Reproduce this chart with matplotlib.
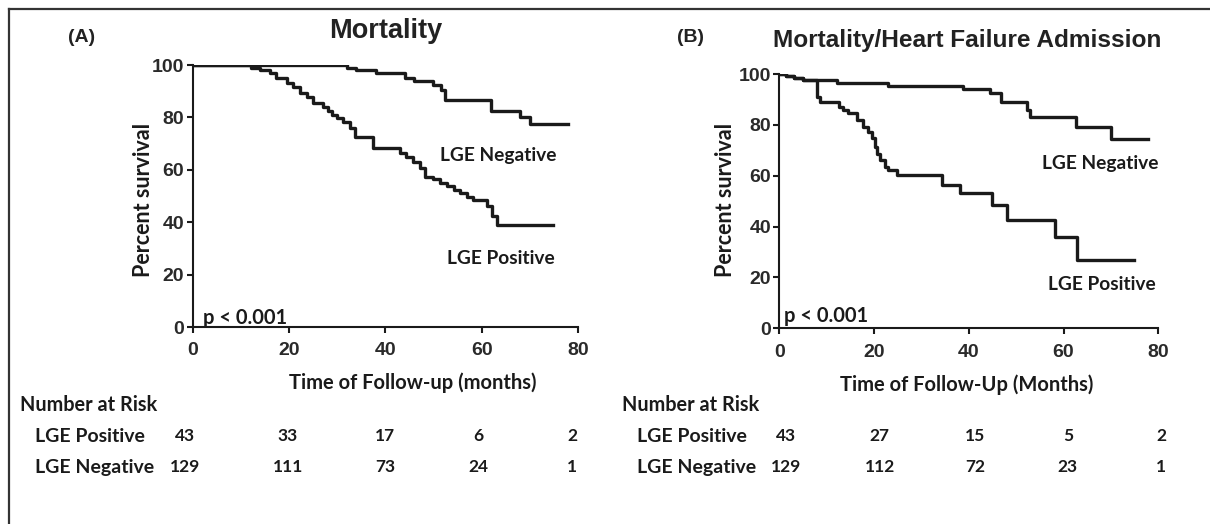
import matplotlib
matplotlib.use("Agg")
import matplotlib.pyplot as plt
import matplotlib.transforms as mtrans
from matplotlib.lines import Line2D

# Panel A: mortality (months, percent survival)
a_neg_t = [0, 32, 34, 38, 44, 46, 50, 51.5, 52.5, 62, 68, 70, 78]
a_neg_s = [100, 99, 98, 97, 95, 94, 92.5, 90.5, 86.5, 82.5, 80, 77.5, 77.5]
a_pos_t = [0, 12.2, 14.0, 16.1, 17.4, 19.5, 20.9, 22.3, 23.7, 25.0, 27.1, 28.0,
           28.9, 29.9, 31.3, 32.7, 33.7, 37.5, 43.1, 44.4, 45.8, 47.2, 48.2,
           50.0, 51.4, 52.8, 54.2, 55.5, 56.9, 58.3, 61.1, 62.1, 63.1, 74.9]
a_pos_s = [100, 99, 98, 96.8, 94.9, 93, 91.7, 89.2, 87.9, 85.6, 84, 82.5,
           81, 79.7, 78.4, 75.8, 72.6, 68.2, 66.5, 64.8, 63.1, 60.6, 57.1,
           56.3, 55, 53.7, 52.4, 51.1, 49.8, 48.5, 46, 42.5, 38.9, 38.9]

# Panel B: mortality / heart failure admission
b_neg_t = [0, 1.5, 3, 5, 12.1, 23, 38.8, 44.5, 46.9, 52.2, 52.9, 62.7, 70.1, 77.9]
b_neg_s = [100, 99.3, 98.6, 97.6, 96.6, 95.3, 94.0, 92.4, 89.1, 85.8, 83.2, 79.3, 74.3, 74.3]
b_pos_t = [0, 1.5, 3, 5, 7.9, 8.6, 12.5, 13.5, 14.6, 16.3, 17.7, 18.8, 19.5,
           20.2, 20.7, 21.2, 22.3, 23.0, 24.8, 34.3, 38.1, 44.8, 48.0, 58.2,
           62.9, 74.8]
b_pos_s = [100, 99.3, 98.6, 97.6, 91.1, 89.1, 87.2, 85.8, 84.5, 81.9, 79.3,
           77.3, 74.7, 71.4, 68.7, 66.1, 63.5, 62.2, 60.3, 56.4, 53.1, 48.5,
           42.6, 35.8, 26.9, 26.9]

a_risk_pos = [43, 33, 17, 6, 2]
a_risk_neg = [129, 111, 73, 24, 1]
b_risk_pos = [43, 27, 15, 5, 2]
b_risk_neg = [129, 112, 72, 23, 1]

# column placement (in months) of the at-risk numbers under each panel
a_cols = [-1.6, 19.8, 40, 59.3, 78.8]
b_cols = [1.4, 21.2, 41.3, 60.9, 80.6]

W, H = 1210, 524
fig = plt.figure(figsize=(W / 100, H / 100), dpi=100)

arial = "Liberation Sans"
calibri = "Lato"
ink = "#1a1a1a"


def fx(px):
    return px / W


def fy(py):
    return 1 - py / H


def survival_panel(rect, neg, pos, title, tsize, tpos, xlabel, xl_pos, yl_pos,
                   neg_lbl, pos_lbl, p_lbl):
    ax = fig.add_axes(rect)
    ax.step(neg[0], neg[1], where="post", color=ink, lw=2.4)
    ax.step(pos[0], pos[1], where="post", color=ink, lw=2.4)
    ax.set_xlim(0, 80)
    ax.set_ylim(0, 100)
    ax.set_xticks([0, 20, 40, 60, 80])
    ax.set_yticks([0, 20, 40, 60, 80, 100])
    for s in ["top", "right"]:
        ax.spines[s].set_visible(False)
    for s in ["left", "bottom"]:
        ax.spines[s].set_linewidth(1.5)
        ax.spines[s].set_color(ink)
    ax.tick_params(length=4, width=1.5, color=ink)
    ax.tick_params(axis="x", pad=7)
    ax.tick_params(axis="y", pad=2)
    for lab in ax.get_xticklabels() + ax.get_yticklabels():
        lab.set_fontfamily(arial)
        lab.set_fontweight("bold")
        lab.set_fontsize(14)
        lab.set_color("#2a2a2a")
    ax.patch.set_alpha(0)
    fig.text(fx(tpos[0]), fy(tpos[1]), title, fontfamily=arial, fontweight="bold",
             fontsize=tsize, ha="center", va="center", color="#222222")
    fig.text(fx(xl_pos[0]), fy(xl_pos[1]), xlabel, fontfamily=calibri,
             fontweight="bold", fontsize=14.5, ha="center", va="center", color=ink)
    fig.text(fx(yl_pos[0]), fy(yl_pos[1]), "Percent survival", fontfamily=calibri,
             fontweight="bold", fontsize=15.5, rotation=90, ha="center", va="center",
             color=ink)
    for (x, y, s) in [neg_lbl, pos_lbl]:
        fig.text(fx(x), fy(y), s, fontfamily=calibri, fontweight="bold",
                 fontsize=13.8, ha="left", va="center", color=ink)
    fig.text(fx(p_lbl[0]), fy(p_lbl[1]), p_lbl[2], fontfamily=calibri,
             fontweight="bold", fontsize=14.5, ha="left", va="center", color=ink)
    return ax


ax_a = survival_panel([fx(192.7), fy(327), fx(577.9) - fx(192.7), (327 - 65) / H],
                      (a_neg_t, a_neg_s), (a_pos_t, a_pos_s), "Mortality", 19.5,
                      (386, 31), "Time of Follow-up (months)", (413, 383), (143, 200),
                      (440, 155, "LGE Negative"), (447, 258, "LGE Positive"),
                      (203, 318, "p < 0.001"))
ax_b = survival_panel([fx(779.3), fy(328.3), fx(1158.3) - fx(779.3), (328.3 - 74) / H],
                      (b_neg_t, b_neg_s), (b_pos_t, b_pos_s),
                      "Mortality/Heart Failure Admission", 17.6, (967, 40),
                      "Time of Follow-Up (Months)", (967, 385), (725, 200),
                      (1042, 163, "LGE Negative"), (1048, 284, "LGE Positive"),
                      (784, 316, "p < 0.001"))

fig.text(fx(82), fy(38), "(A)", fontfamily=arial, fontweight="bold", fontsize=14,
         ha="center", va="center", color="#222222")
fig.text(fx(690), fy(38), "(B)", fontfamily=arial, fontweight="bold", fontsize=14,
         ha="center", va="center", color="#222222")

# number at risk tables
for ax, left, cols, rows in [(ax_a, 20, a_cols, (a_risk_pos, a_risk_neg)),
                             (ax_b, 622, b_cols, (b_risk_pos, b_risk_neg))]:
    fig.text(fx(left), fy(405), "Number at Risk", fontfamily=calibri,
             fontweight="bold", fontsize=14.3, ha="left", va="center", color=ink)
    trans = mtrans.blended_transform_factory(ax.transData, fig.transFigure)
    for name, vals, ypx in [("LGE Positive", rows[0], 436), ("LGE Negative", rows[1], 467)]:
        fig.text(fx(left + 15), fy(ypx), name, fontfamily=calibri, fontweight="bold",
                 fontsize=14, ha="left", va="center", color=ink)
        for t, v in zip(cols, vals):
            ax.text(t, fy(ypx), str(v), transform=trans, fontfamily=calibri,
                    fontweight="bold", fontsize=12.5, ha="center", va="center",
                    color=ink)

# frame lines on the left and top edges
fig.add_artist(Line2D([fx(9), fx(9)], [0, fy(9)], color="#333333", lw=1.6))
fig.add_artist(Line2D([fx(9), 1], [fy(9), fy(9)], color="#333333", lw=1.6))

fig.savefig("out.png", dpi=100)
